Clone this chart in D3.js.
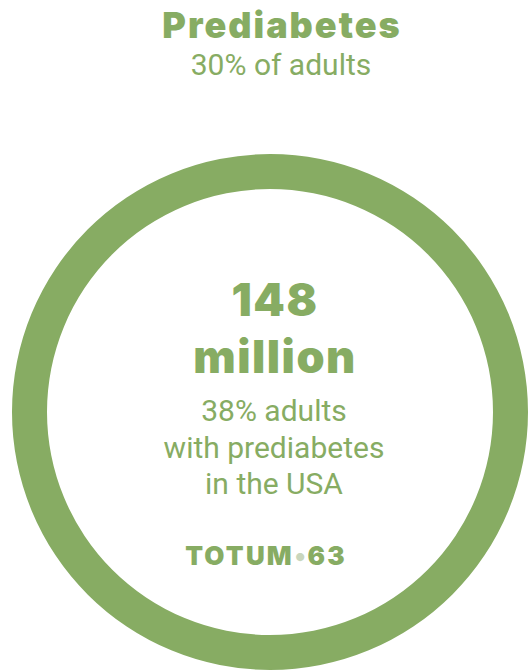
<!DOCTYPE html>
<html>
<head>
<meta charset="utf-8">
<script src="https://cdn.jsdelivr.net/npm/d3@7"></script>
<style>
  body { margin: 0; background: #fff; }
  svg { display: block; }
</style>
</head>
<body>
<svg class="chart"></svg>
<script>
const width = 528,
  height = 672;
const green = "#87ac63";

// data
const titleLines = ["Prediabetes"];
const subtitleLines = ["30% of adults"];
const ringValues = [148];
const headlineLines = ["148", "million"];
const noteLines = ["38% adults", "with prediabetes", "in the USA"];
const brand = ["TOTUM", "63"];

let chart = d3.select(".chart")
  .attr("width", width)
  .attr("height", height);

let cx = 270,
  cy = 412;

let pie = d3.pie().sort(null);
let arc = d3.arc()
  .innerRadius(223)
  .outerRadius(258);

chart.append("g")
  .attr("transform", `translate(${cx}, ${cy})`)
  .selectAll("path")
  .data(pie(ringValues))
  .enter().append("path")
  .attr("d", arc)
  .attr("fill", green);

// header
chart.append("g")
  .selectAll("text")
  .data(titleLines)
  .enter().append("text")
  .attr("x", 282)
  .attr("y", (d, i) => 38 + i * 36)
  .attr("text-anchor", "middle")
  .attr("fill", green)
  .style("font", "900 36px Inter")
  .style("letter-spacing", "2px")
  .text(d => d);

chart.append("g")
  .selectAll("text")
  .data(subtitleLines)
  .enter().append("text")
  .attr("x", 281)
  .attr("y", (d, i) => 75 + i * 30)
  .attr("text-anchor", "middle")
  .attr("fill", green)
  .style("font", "400 30px Roboto")
  .text(d => d);

// inside the ring
chart.append("g")
  .selectAll("text")
  .data(headlineLines)
  .enter().append("text")
  .attr("x", cx + 5)
  .attr("y", (d, i) => 316 + i * 57)
  .attr("text-anchor", "middle")
  .attr("fill", green)
  .style("font", "900 45px Inter")
  .style("letter-spacing", "1.5px")
  .text(d => d);

chart.append("g")
  .selectAll("text")
  .data(noteLines)
  .enter().append("text")
  .attr("x", cx + 4)
  .attr("y", (d, i) => 421 + i * 36.5)
  .attr("text-anchor", "middle")
  .attr("fill", green)
  .style("font", "400 30px Roboto")
  .text(d => d);

let logo = chart.append("text")
  .attr("x", cx - 4)
  .attr("y", 565)
  .attr("text-anchor", "middle")
  .attr("fill", green)
  .style("font", "900 26px Inter")
  .style("letter-spacing", "2.2px");
logo.append("tspan").text(brand[0]);
logo.append("tspan").attr("fill", "#c9d6bd").attr("dx", 1).text("\u2022");
logo.append("tspan").attr("dx", 0).text(brand[1]);
</script>
</body>
</html>
